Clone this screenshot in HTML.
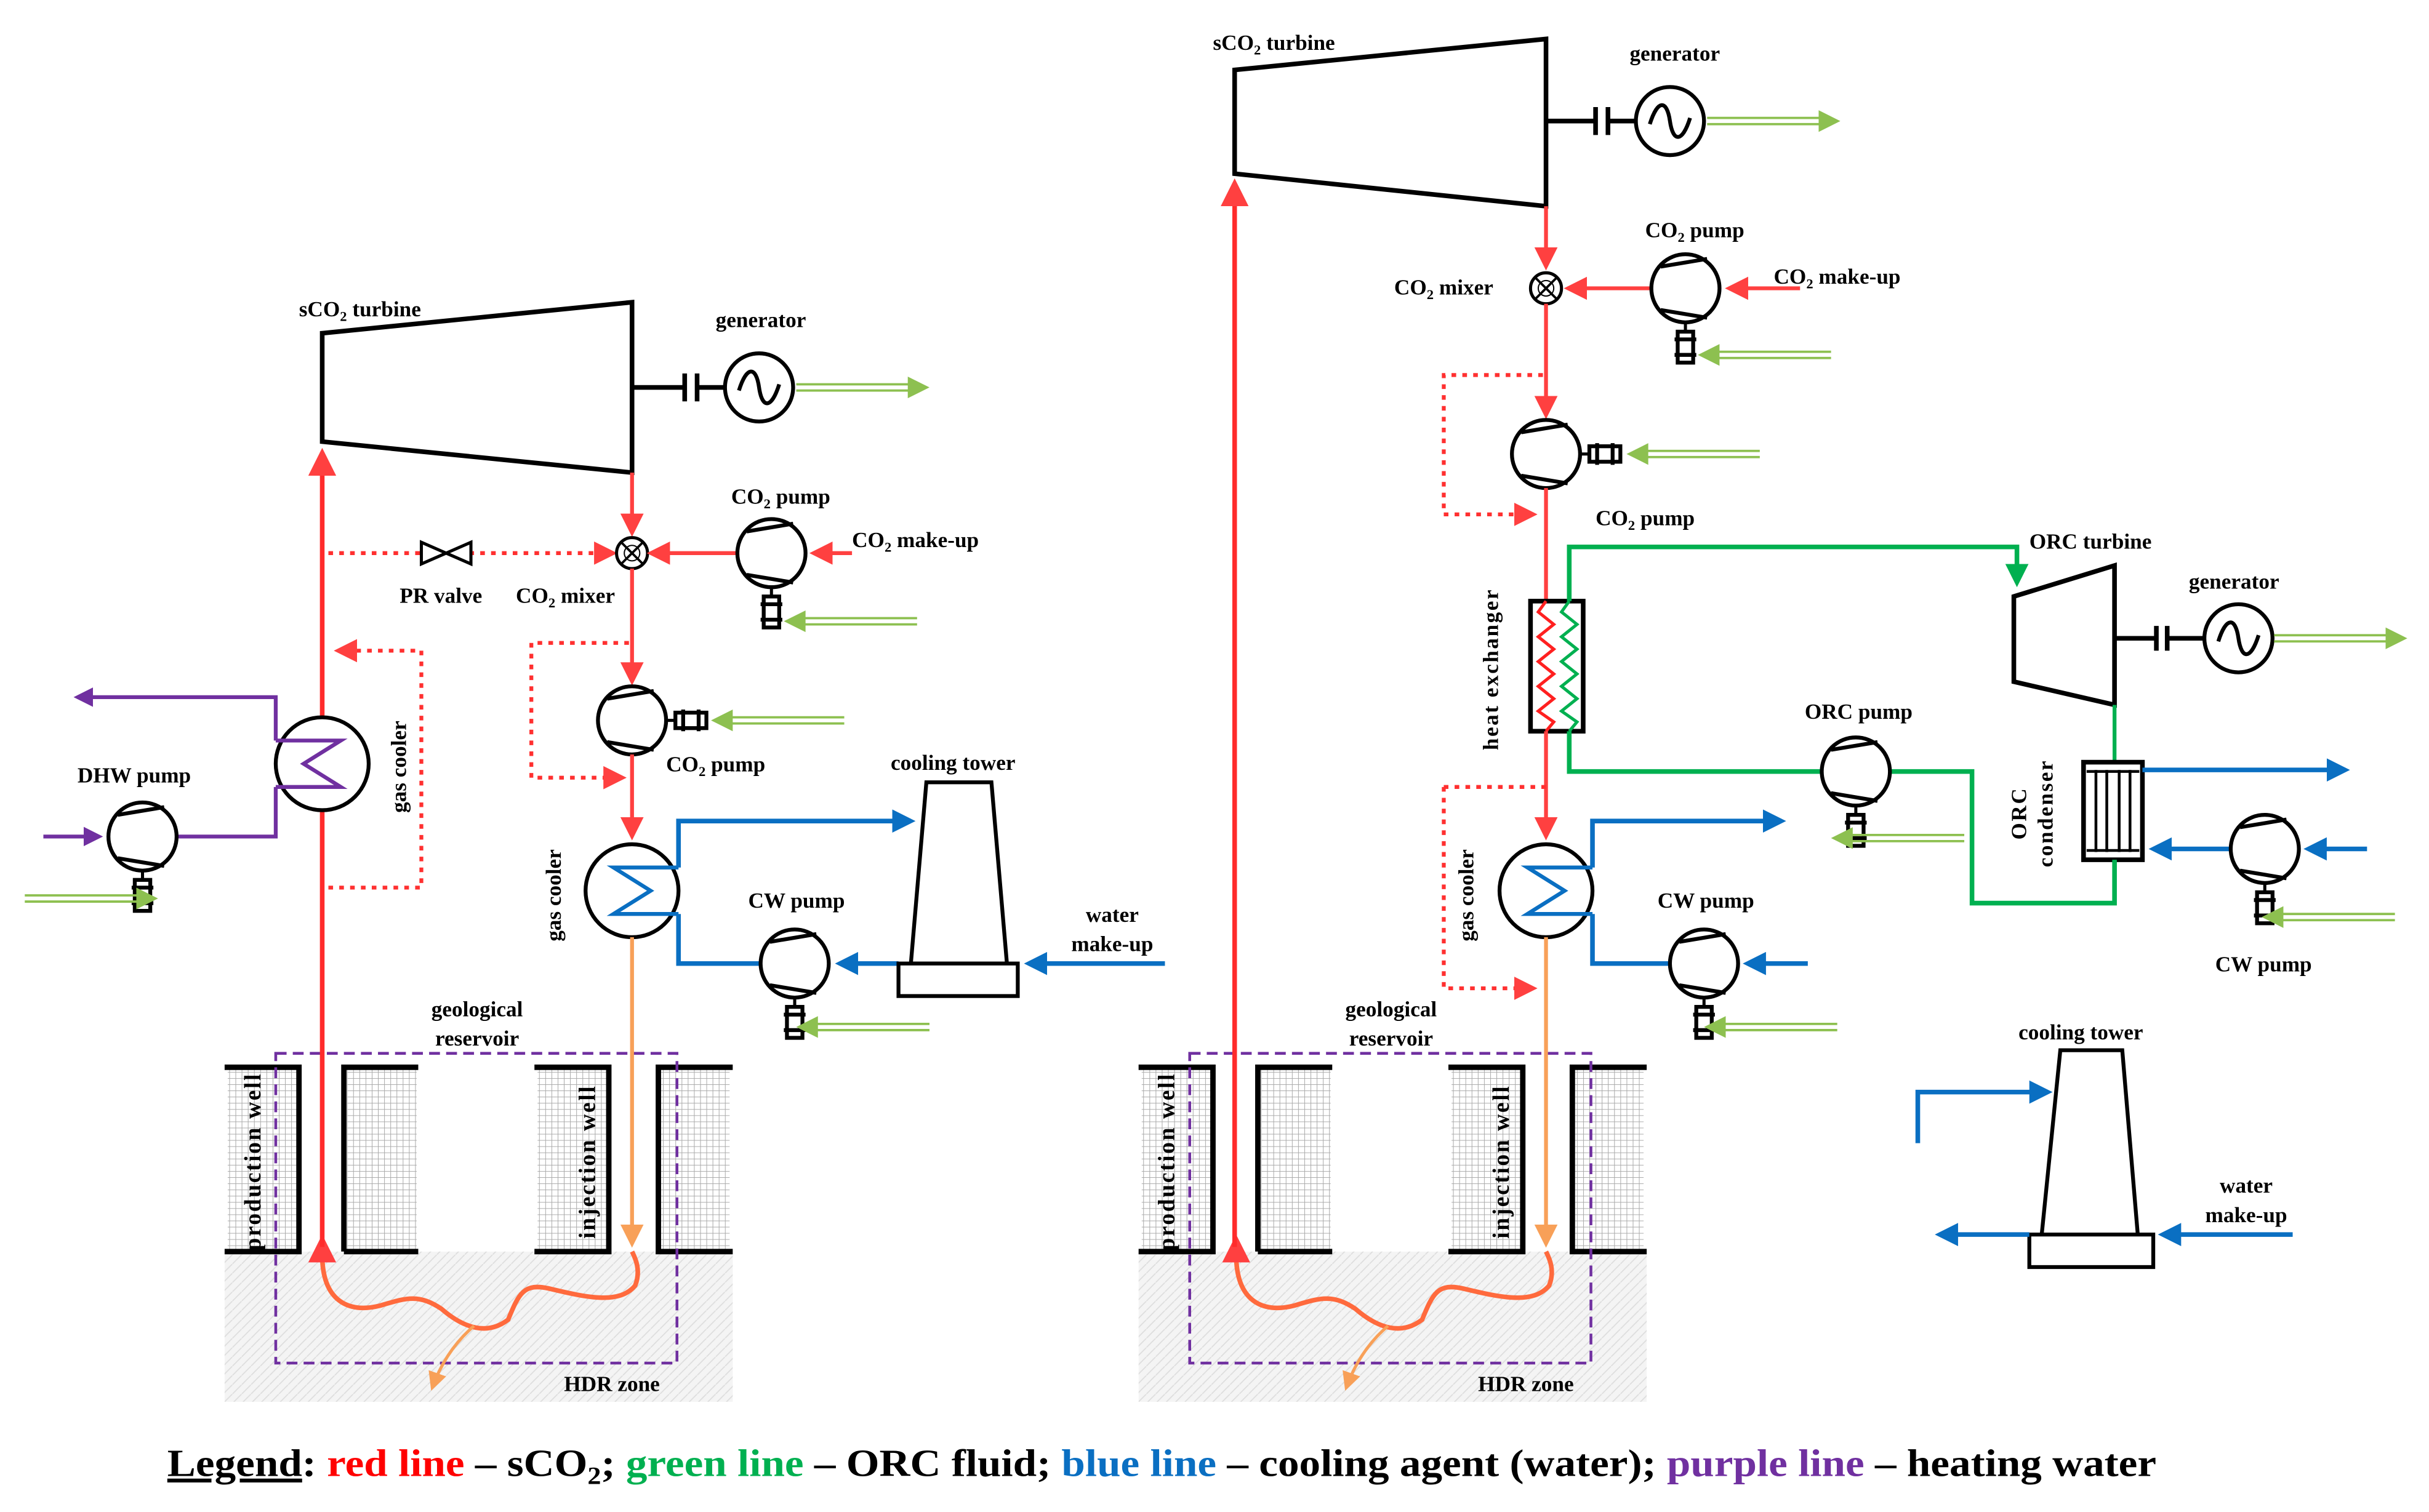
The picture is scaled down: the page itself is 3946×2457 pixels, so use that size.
<!DOCTYPE html>
<html><head><meta charset="utf-8"><style>
html,body{margin:0;padding:0;background:#fff;}
svg{display:block;}
text{font-family:"Liberation Serif",serif;font-weight:bold;fill:#000;}
</style></head><body>
<svg width="3946" height="2457" viewBox="0 0 1568 976" xmlns="http://www.w3.org/2000/svg">
<defs>
<marker id="ar" markerWidth="6" markerHeight="6" refX="5" refY="3" orient="auto" markerUnits="strokeWidth"><path d="M0,0L6,3L0,6z" fill="#ff4040"/></marker>
<marker id="ao" markerWidth="6" markerHeight="6" refX="5" refY="3" orient="auto" markerUnits="strokeWidth"><path d="M0,0L6,3L0,6z" fill="#f8a058"/></marker>
<marker id="ab" markerWidth="5" markerHeight="5" refX="4" refY="2.5" orient="auto" markerUnits="strokeWidth"><path d="M0,0L5,2.5L0,5z" fill="#0a6fc2"/></marker>
<marker id="ag" markerWidth="5" markerHeight="5" refX="4" refY="2.5" orient="auto" markerUnits="strokeWidth"><path d="M0,0L5,2.5L0,5z" fill="#00b050"/></marker>
<marker id="ap" markerWidth="5" markerHeight="5" refX="4" refY="2.5" orient="auto" markerUnits="strokeWidth"><path d="M0,0L5,2.5L0,5z" fill="#7030a0"/></marker>
<pattern id="grid" width="4" height="4" patternUnits="userSpaceOnUse"><rect width="4" height="4" fill="#fff"/><path d="M0,0H4M0,0V4" stroke="#aaa" stroke-width="0.8"/></pattern>
<pattern id="diag" width="6" height="6" patternUnits="userSpaceOnUse"><rect width="6" height="6" fill="#f4f4f4"/><path d="M0,6L6,0" stroke="#ddd" stroke-width="0.7"/></pattern>
<g id="pump"><circle r="22" fill="#fff" stroke="#000" stroke-width="2.5"/><path d="M-16,-14L14,-19M-16,14L14,19" stroke="#000" stroke-width="2.5" fill="none"/></g>
<g id="motD"><path d="M0,22V28" stroke="#000" stroke-width="2"/><rect x="-5" y="28" width="10" height="20" fill="#fff" stroke="#000" stroke-width="2.5"/><path d="M-7,33H7M-7,43H7" stroke="#000" stroke-width="2.5"/></g>
<g id="motR"><path d="M22,0H28" stroke="#000" stroke-width="2"/><rect x="28" y="-5" width="20" height="10" fill="#fff" stroke="#000" stroke-width="2.5"/><path d="M33,-7V7M43,-7V7" stroke="#000" stroke-width="2.5"/></g>
<g id="ea"><path d="M0,-2H74M0,2H74" stroke="#8dc050" stroke-width="1.5"/><path d="M72,-7L86,0L72,7z" fill="#8dc050"/></g>
<g id="gen"><circle r="22" fill="#fff" stroke="#000" stroke-width="2.5"/><path d="M-13,2C-8,-14 -2,-14 0,0C2,14 8,14 13,-2" fill="none" stroke="#000" stroke-width="2.5"/></g>
<g id="mixer"><circle r="10" fill="#fff" stroke="#000" stroke-width="2"/><path d="M-7,-7L7,7M-7,7L7,-7" stroke="#000" stroke-width="1.5"/><circle r="5" fill="none" stroke="#000" stroke-width="0.8"/></g>
<g id="reservoir">
<rect x="145" y="808" width="328" height="97" fill="url(#diag)"/>
<rect x="147" y="690" width="45" height="118" fill="url(#grid)"/>
<rect x="224" y="690" width="45" height="118" fill="url(#grid)"/>
<rect x="347" y="690" width="45" height="118" fill="url(#grid)"/>
<rect x="426" y="690" width="45" height="118" fill="url(#grid)"/>
<path d="M145,689H193V808H145M222,808V689H270M222,808H270M345,689H393V808H345M473,689H425V808H473" fill="none" stroke="#000" stroke-width="3.5"/>
<rect x="178" y="680" width="259" height="200" fill="none" stroke="#7030a0" stroke-width="1.8" stroke-dasharray="7,4"/>
<text transform="translate(168,750) rotate(-90)" font-size="15" text-anchor="middle" letter-spacing="1">production well</text>
<text transform="translate(384,750) rotate(-90)" font-size="15" text-anchor="middle" letter-spacing="1">injection well</text>
<text x="308" y="656" font-size="14" text-anchor="middle">geological</text>
<text x="308" y="675" font-size="14" text-anchor="middle">reservoir</text>
<text x="395" y="898" font-size="14" text-anchor="middle">HDR zone</text>
<path d="M208,810C208,840 225,848 245,843C262,838 270,835 285,845C300,858 315,862 328,852C335,835 338,828 355,832C380,838 400,842 410,830C414,820 410,812 408,808" fill="none" stroke="#ff6a3d" stroke-width="3"/>
<path d="M306,856C292,868 284,882 279,896" fill="none" stroke="#f8a058" stroke-width="2" marker-end="url(#ao)"/>
<path d="M208,812V800" stroke="#ff3030" stroke-width="3" marker-end="url(#ar)"/>
</g>
</defs>

<!-- ============ LEFT SYSTEM ============ -->
<use href="#reservoir"/>
<path d="M208,805V292" stroke="#ff2b2b" stroke-width="3" fill="none" marker-end="url(#ar)"/>
<polygon points="208,215 408,195 408,305 208,285" fill="#fff" stroke="#000" stroke-width="3"/>
<text x="193" y="204" font-size="14">sCO<tspan font-size="9" dy="3">2</tspan><tspan dy="-3"> turbine</tspan></text>
<path d="M408,250H442M442,241V259M450,241V259M450,250H468" stroke="#000" stroke-width="3" fill="none"/>
<use href="#gen" x="490" y="250"/>
<text x="462" y="211" font-size="14">generator</text>
<use href="#ea" x="514" y="250"/>
<path d="M408,305V344" stroke="#ff4040" stroke-width="2.5" marker-end="url(#ar)"/>
<path d="M212,357H396" stroke="#ff3030" stroke-width="2.5" stroke-dasharray="3,4" marker-end="url(#ar)"/>
<polygon points="272,350 288,357 272,364" fill="#fff" stroke="#000" stroke-width="2"/>
<polygon points="304,350 288,357 304,364" fill="#fff" stroke="#000" stroke-width="2"/>
<use href="#mixer" x="408" y="357"/>
<text x="258" y="389" font-size="14">PR valve</text>
<text x="333" y="389" font-size="14">CO<tspan font-size="9" dy="3">2</tspan><tspan dy="-3"> mixer</tspan></text>
<path d="M550,357H525" stroke="#ff4040" stroke-width="2.5" marker-end="url(#ar)"/>
<path d="M476,357H420" stroke="#ff4040" stroke-width="2.5" marker-end="url(#ar)"/>
<use href="#pump" x="498" y="357"/><use href="#motD" x="498" y="357"/>
<use href="#ea" transform="translate(592,401) scale(-1,1)"/>
<text x="472" y="325" font-size="14">CO<tspan font-size="9" dy="3">2</tspan><tspan dy="-3"> pump</tspan></text>
<text x="550" y="353" font-size="14">CO<tspan font-size="9" dy="3">2</tspan><tspan dy="-3"> make-up</tspan></text>
<path d="M408,367V440" stroke="#ff4040" stroke-width="2.5" marker-end="url(#ar)"/>
<path d="M406,415H343V502H402" stroke="#ff3030" stroke-width="2.5" stroke-dasharray="3,4" fill="none" marker-end="url(#ar)"/>
<use href="#pump" x="408" y="465"/><use href="#motR" x="408" y="465"/>
<use href="#ea" transform="translate(545,465) scale(-1,1)"/>
<text x="430" y="498" font-size="14">CO<tspan font-size="9" dy="3">2</tspan><tspan dy="-3"> pump</tspan></text>
<path d="M408,487V540" stroke="#ff4040" stroke-width="2.5" marker-end="url(#ar)"/>
<circle cx="408" cy="575" r="30" fill="#fff" stroke="#000" stroke-width="2.5"/>
<path d="M438,560H396L420,575L396,590H438" fill="none" stroke="#0a6fc2" stroke-width="2.5"/>
<text transform="translate(362,578) rotate(-90)" font-size="14" text-anchor="middle">gas cooler</text>
<path d="M438,560V530H588" stroke="#0a6fc2" stroke-width="3" fill="none" marker-end="url(#ab)"/>
<path d="M438,590V622H491" stroke="#0a6fc2" stroke-width="3" fill="none"/>
<path d="M580,622H542" stroke="#0a6fc2" stroke-width="3" marker-end="url(#ab)"/>
<use href="#pump" x="513" y="622"/><use href="#motD" x="513" y="622"/>
<use href="#ea" transform="translate(600,663) scale(-1,1)"/>
<text x="483" y="586" font-size="14">CW pump</text>
<polygon points="598,505 640,505 650,622 588,622" fill="#fff" stroke="#000" stroke-width="2.5"/>
<rect x="580" y="622" width="77" height="21" fill="#fff" stroke="#000" stroke-width="2.5"/>
<text x="575" y="497" font-size="14">cooling tower</text>
<path d="M752,622H664" stroke="#0a6fc2" stroke-width="3" marker-end="url(#ab)"/>
<text x="718" y="595" font-size="14" text-anchor="middle">water</text>
<text x="718" y="614" font-size="14" text-anchor="middle">make-up</text>
<path d="M408,605V803" stroke="#f8a058" stroke-width="2.5" marker-end="url(#ao)"/>
<circle cx="208" cy="493" r="30" fill="#fff" stroke="#000" stroke-width="2.5"/>
<path d="M178,478H220L196,493L220,508H178" fill="none" stroke="#7030a0" stroke-width="2.5"/>
<path d="M178,478V450H50" stroke="#7030a0" stroke-width="2.5" fill="none" marker-end="url(#ap)"/>
<path d="M178,508V540H114" stroke="#7030a0" stroke-width="2.5" fill="none"/>
<path d="M28,540H64" stroke="#7030a0" stroke-width="2.5" marker-end="url(#ap)"/>
<use href="#pump" x="92" y="540"/><use href="#motD" x="92" y="540"/>
<use href="#ea" x="16" y="580"/>
<text x="50" y="505" font-size="14">DHW pump</text>
<text transform="translate(262,495) rotate(-90)" font-size="14" text-anchor="middle">gas cooler</text>
<path d="M212,573H272V420H218" stroke="#ff3030" stroke-width="2.5" stroke-dasharray="3,4" fill="none" marker-end="url(#ar)"/>

<!-- ============ RIGHT SYSTEM ============ -->
<use href="#reservoir" x="590"/>
<path d="M797,805V118" stroke="#ff2b2b" stroke-width="3" fill="none" marker-end="url(#ar)"/>
<polygon points="797,45 998,25 998,133 797,112" fill="#fff" stroke="#000" stroke-width="3"/>
<text x="783" y="32" font-size="14">sCO<tspan font-size="9" dy="3">2</tspan><tspan dy="-3"> turbine</tspan></text>
<path d="M998,78H1030M1030,69V87M1038,69V87M1038,78H1056" stroke="#000" stroke-width="3" fill="none"/>
<use href="#gen" x="1078" y="78"/>
<text x="1052" y="39" font-size="14">generator</text>
<use href="#ea" x="1102" y="78"/>
<path d="M998,133V172" stroke="#ff4040" stroke-width="2.5" marker-end="url(#ar)"/>
<use href="#mixer" x="998" y="186"/>
<text x="900" y="190" font-size="14">CO<tspan font-size="9" dy="3">2</tspan><tspan dy="-3"> mixer</tspan></text>
<path d="M1162,186H1116" stroke="#ff4040" stroke-width="2.5" marker-end="url(#ar)"/>
<path d="M1066,186H1012" stroke="#ff4040" stroke-width="2.5" marker-end="url(#ar)"/>
<use href="#pump" x="1088" y="186"/><use href="#motD" x="1088" y="186"/>
<use href="#ea" transform="translate(1182,229) scale(-1,1)"/>
<text x="1062" y="153" font-size="14">CO<tspan font-size="9" dy="3">2</tspan><tspan dy="-3"> pump</tspan></text>
<text x="1145" y="183" font-size="14">CO<tspan font-size="9" dy="3">2</tspan><tspan dy="-3"> make-up</tspan></text>
<path d="M998,196V268" stroke="#ff4040" stroke-width="2.5" marker-end="url(#ar)"/>
<path d="M996,242H932V332H990" stroke="#ff3030" stroke-width="2.5" stroke-dasharray="3,4" fill="none" marker-end="url(#ar)"/>
<use href="#pump" x="998" y="293"/><use href="#motR" x="998" y="293"/>
<use href="#ea" transform="translate(1136,293) scale(-1,1)"/>
<text x="1030" y="339" font-size="14">CO<tspan font-size="9" dy="3">2</tspan><tspan dy="-3"> pump</tspan></text>
<path d="M998,315V388" stroke="#ff4040" stroke-width="2.5"/>
<rect x="988" y="388" width="34" height="84" fill="#fff" stroke="#000" stroke-width="3"/>
<path d="M998,388L993,395L1003,403L993,411L1003,419L993,427L1003,435L993,443L1003,451L993,459L1003,466L998,472" fill="none" stroke="#ff2020" stroke-width="2"/>
<path d="M1013,388L1008,395L1018,403L1008,411L1018,419L1008,427L1018,435L1008,443L1018,451L1008,459L1018,466L1013,472" fill="none" stroke="#00b050" stroke-width="2"/>
<text transform="translate(967,432) rotate(-90)" font-size="14" text-anchor="middle" letter-spacing="1">heat exchanger</text>
<path d="M1013,388V353H1302V376" stroke="#00b050" stroke-width="3" fill="none" marker-end="url(#ag)"/>
<polygon points="1300,385 1365,365 1365,455 1300,440" fill="#fff" stroke="#000" stroke-width="3"/>
<text x="1310" y="354" font-size="14">ORC turbine</text>
<path d="M1365,412H1392M1392,404V420M1399,404V420M1399,412H1423" stroke="#000" stroke-width="3" fill="none"/>
<use href="#gen" x="1445" y="412"/>
<text x="1413" y="380" font-size="14">generator</text>
<use href="#ea" x="1468" y="412"/>
<path d="M1365,455V492" stroke="#00b050" stroke-width="2.5"/>
<rect x="1345" y="492" width="38" height="63" fill="#fff" stroke="#000" stroke-width="3"/>
<path d="M1353,497V550M1360,497V550M1368,497V550M1375,497V550M1347,498H1381M1347,549H1381" stroke="#000" stroke-width="1.8"/>
<path d="M1365,555V583H1273V498H1220M1176,498H1013V472" stroke="#00b050" stroke-width="3" fill="none"/>
<use href="#pump" x="1198" y="498"/><use href="#motD" x="1198" y="498"/>
<use href="#ea" transform="translate(1268,541) scale(-1,1)"/>
<text x="1165" y="464" font-size="14">ORC pump</text>
<text transform="translate(1308,525) rotate(-90)" font-size="14" text-anchor="middle" letter-spacing="1">ORC</text>
<text transform="translate(1325,525) rotate(-90)" font-size="14" text-anchor="middle" letter-spacing="1">condenser</text>
<path d="M1383,497H1514" stroke="#0a6fc2" stroke-width="3" marker-end="url(#ab)"/>
<path d="M1440,548H1390" stroke="#0a6fc2" stroke-width="3" marker-end="url(#ab)"/>
<path d="M1528,548H1490" stroke="#0a6fc2" stroke-width="3" marker-end="url(#ab)"/>
<use href="#pump" x="1462" y="548"/><use href="#motD" x="1462" y="548"/>
<use href="#ea" transform="translate(1546,592) scale(-1,1)"/>
<text x="1430" y="627" font-size="14">CW pump</text>
<path d="M998,472V540" stroke="#ff4040" stroke-width="2.5" marker-end="url(#ar)"/>
<path d="M932,508V638H990" stroke="#ff3030" stroke-width="2.5" stroke-dasharray="3,4" fill="none" marker-end="url(#ar)"/>
<path d="M932,508H998" stroke="#ff3030" stroke-width="2.5" stroke-dasharray="3,4"/>
<circle cx="998" cy="575" r="30" fill="#fff" stroke="#000" stroke-width="2.5"/>
<path d="M1028,560H986L1010,575L986,590H1028" fill="none" stroke="#0a6fc2" stroke-width="2.5"/>
<text transform="translate(951,578) rotate(-90)" font-size="14" text-anchor="middle">gas cooler</text>
<path d="M1028,560V530H1150" stroke="#0a6fc2" stroke-width="3" fill="none" marker-end="url(#ab)"/>
<path d="M1028,590V622H1078" stroke="#0a6fc2" stroke-width="3" fill="none"/>
<path d="M1167,622H1128" stroke="#0a6fc2" stroke-width="3" marker-end="url(#ab)"/>
<use href="#pump" x="1100" y="622"/><use href="#motD" x="1100" y="622"/>
<use href="#ea" transform="translate(1186,663) scale(-1,1)"/>
<text x="1070" y="586" font-size="14">CW pump</text>
<path d="M998,605V803" stroke="#f8a058" stroke-width="2.5" marker-end="url(#ao)"/>
<polygon points="1330,678 1370,678 1380,797 1318,797" fill="#fff" stroke="#000" stroke-width="2.5"/>
<rect x="1310" y="797" width="80" height="21" fill="#fff" stroke="#000" stroke-width="2.5"/>
<text x="1303" y="671" font-size="14">cooling tower</text>
<path d="M1238,738V705H1322" stroke="#0a6fc2" stroke-width="3" fill="none" marker-end="url(#ab)"/>
<path d="M1310,797H1252" stroke="#0a6fc2" stroke-width="3" marker-end="url(#ab)"/>
<path d="M1480,797H1396" stroke="#0a6fc2" stroke-width="3" marker-end="url(#ab)"/>
<text x="1450" y="770" font-size="14" text-anchor="middle">water</text>
<text x="1450" y="789" font-size="14" text-anchor="middle">make-up</text>

<!-- legend -->
<text x="108" y="953" font-size="25" textLength="1284" lengthAdjust="spacingAndGlyphs"><tspan text-decoration="underline">Legend</tspan>: <tspan fill="#ff0000">red line</tspan> – sCO<tspan font-size="16" dy="5">2</tspan><tspan dy="-5">; </tspan><tspan fill="#00b050">green line</tspan> – ORC fluid; <tspan fill="#0a6fc2">blue line</tspan> – cooling agent (water); <tspan fill="#7030a0">purple line</tspan> – heating water</text>
</svg>
</body></html>
